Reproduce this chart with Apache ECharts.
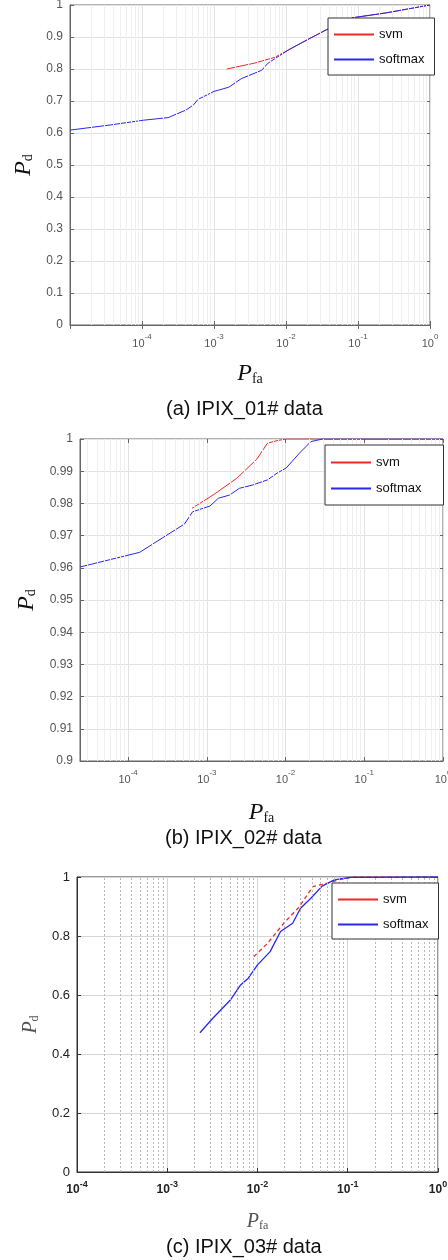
<!DOCTYPE html>
<html>
<head>
<meta charset="utf-8">
<script src="https://cdn.jsdelivr.net/npm/echarts@6/dist/echarts.min.js"></script>
<style>html,body{margin:0;padding:0;background:#fff}#chart{width:448px;height:1260px}</style>
</head>
<body>
<div id="chart"></div>
<script>
// (a) IPIX_01# data
var pfaSoftmaxA = [1e-5, 3.6e-5, 1.05e-4, 2.3e-4, 4.1e-4, 5.2e-4, 6.0e-4, 1.0e-3, 1.6e-3, 2.4e-3, 4.6e-3, 5.6e-3, 1.07e-2, 2.0e-2, 3.9e-2, 8.3e-2, 0.24, 1];
var pdSoftmaxA = [0.609, 0.625, 0.64, 0.648, 0.672, 0.688, 0.705, 0.73, 0.743, 0.77, 0.796, 0.818, 0.859, 0.892, 0.926, 0.96, 0.975, 1];
var pfaSvmA = [1.5e-3, 3.6e-3, 6.9e-3, 1.07e-2, 2.0e-2, 3.9e-2, 8.3e-2, 0.24, 1];
var pdSvmA = [0.80, 0.818, 0.836, 0.859, 0.892, 0.926, 0.96, 0.975, 1];

// (b) IPIX_02# data
var pfaSoftmaxB = [2.5e-5, 1.4e-4, 5.2e-4, 6.6e-4, 1.1e-3, 1.4e-3, 1.95e-3, 2.6e-3, 3.8e-3, 5.9e-3, 7.8e-3, 1.02e-2, 1.5e-2, 2.1e-2, 2.95e-2, 1];
var pdSoftmaxB = [0.9603, 0.9648, 0.9736, 0.9774, 0.9792, 0.9816, 0.9826, 0.9847, 0.9857, 0.9873, 0.9894, 0.991, 0.9956, 0.9992, 1, 1];
var pfaSvmB = [6.5e-4, 1.2e-3, 2.4e-3, 4.3e-3, 5.9e-3, 7.8e-3, 1.02e-2, 1];
var pdSvmB = [0.9785, 0.9826, 0.9878, 0.9937, 0.9987, 0.9995, 1, 1];

// (c) IPIX_03# data
var pfaSoftmaxC = [2.3e-3, 3.2e-3, 5.0e-3, 6.5e-3, 7.9e-3, 1.0e-2, 1.38e-2, 1.8e-2, 2.45e-2, 3.0e-2, 3.9e-2, 5.2e-2, 7.1e-2, 0.107, 1];
var pdSoftmaxC = [0.472, 0.521, 0.583, 0.634, 0.657, 0.702, 0.747, 0.815, 0.843, 0.894, 0.928, 0.969, 0.99, 0.999, 1];
var pfaSvmC = [9.1e-3, 1.29e-2, 1.95e-2, 2.9e-2, 4.1e-2, 5.9e-2, 8.3e-2, 0.117, 1];
var pdSvmC = [0.73, 0.775, 0.843, 0.899, 0.967, 0.979, 0.992, 1, 1];

var captions = ['(a) IPIX_01# data', '(b) IPIX_02# data', '(c) IPIX_03# data'];
var legendNames = ['svm', 'softmax'];
var lineColors = ['#f02828', '#2828f0'];
var minorMult = [2, 3, 4, 5, 6, 7, 8, 9];

var sans = 'Liberation Sans, Arial, sans-serif';
var serif = 'Liberation Serif, Times New Roman, serif';

var panels = [
  { left: 70, top: 5, width: 360, height: 320, xMin: 1e-5, yMin: 0, yStep: 0.1, showMin: false,
    svm: [pfaSvmA, pdSvmA], soft: [pfaSoftmaxA, pdSoftmaxA], svmDash: 'solid', lw: 1,
    axisColor: '#666', tickColor: '#555', tickSize: 11, tickWeight: 'normal',
    majorGrid: '#e2e2e2', minorGrid: '#efefef', minorType: 'solid',
    nameSize: 24, nameColor: '#111', xNameGap: 33, yNameGap: 23,
    legend: { left: 328, top: 18, padding: [10, 10, 9, 6], itemGap: 12 },
    capTop: 399, capLeft: 166 },
  { left: 80, top: 439, width: 363, height: 322, xMin: 2.45e-5, yMin: 0.9, yStep: 0.01, showMin: false,
    svm: [pfaSvmB, pdSvmB], soft: [pfaSoftmaxB, pdSoftmaxB], svmDash: 'solid', lw: 1,
    axisColor: '#666', tickColor: '#555', tickSize: 11, tickWeight: 'normal',
    majorGrid: '#e2e2e2', minorGrid: '#efefef', minorType: 'solid',
    nameSize: 24, nameColor: '#111', xNameGap: 36, yNameGap: 27,
    legend: { left: 325, top: 445, padding: [11, 22, 10, 6], itemGap: 13 },
    capTop: 828, capLeft: 165 },
  { left: 77, top: 877, width: 361, height: 295, xMin: 1e-4, yMin: 0, yStep: 0.2, showMin: true,
    svm: [pfaSvmC, pdSvmC], soft: [pfaSoftmaxC, pdSoftmaxC], svmDash: [4, 3], lw: 1.3,
    axisColor: '#333', tickColor: '#222', tickSize: 12, tickWeight: 'bold',
    majorGrid: '#d6d6d6', minorGrid: '#b8b8b8', minorType: [2, 2],
    nameSize: 20, nameColor: '#555', xNameGap: 36, yNameGap: 22,
    legend: { left: 332, top: 883, padding: [10, 10, 8, 6], itemGap: 12 },
    capTop: 1237, capLeft: 166 }
];

function pow10Label(v) {
  return '{b|10}{s|' + Math.round(Math.log10(v)) + '}';
}

function powRich(color, size, weight) {
  return {
    b: { fontSize: size, color: color, fontWeight: weight, fontFamily: sans, lineHeight: 16, verticalAlign: 'bottom' },
    s: { fontSize: size - 3, color: color, fontWeight: weight, fontFamily: sans, lineHeight: 8, verticalAlign: 'top' }
  };
}

function nameRich(size, color) {
  return {
    p: { fontSize: size, fontStyle: 'italic', fontFamily: serif, color: color, lineHeight: size + 4, verticalAlign: 'bottom' },
    s: { fontSize: Math.round(size * 0.6), fontFamily: serif, color: color, lineHeight: Math.round(size * 0.6), verticalAlign: 'bottom' }
  };
}

function minorLines(lo, hi) {
  var out = [];
  for (var e = -6; e < 0; e++) {
    minorMult.forEach(function (m) {
      var v = m * Math.pow(10, e);
      if (v > lo && v < hi) out.push({ xAxis: v });
    });
  }
  return out;
}

function pairs(xs, ys) {
  return xs.map(function (x, i) { return [x, ys[i]]; });
}

var grids = [], xAxes = [], yAxes = [], series = [], legends = [], titles = [];

panels.forEach(function (p, i) {
  grids.push({ left: p.left, top: p.top, width: p.width, height: p.height,
    show: true, borderColor: p.axisColor, borderWidth: 1, outerBoundsMode: 'none' });

  xAxes.push({
    type: 'log', logBase: 10, gridIndex: i, min: p.xMin, max: 1,
    name: '{p|P}{s|fa}', nameLocation: 'middle', nameGap: p.xNameGap,
    nameTextStyle: { rich: nameRich(p.nameSize, p.nameColor) },
    axisLine: { show: true, onZero: false, lineStyle: { color: p.axisColor } },
    axisTick: { inside: true, length: 4, lineStyle: { color: p.axisColor } },
    axisLabel: { showMinLabel: p.showMin, margin: 8, formatter: pow10Label,
      rich: powRich(p.tickColor, p.tickSize, p.tickWeight) },
    splitLine: { show: true, lineStyle: { color: p.majorGrid } }
  });
  xAxes.push({
    type: 'log', logBase: 10, gridIndex: i, min: p.xMin, max: 1, position: 'top',
    axisLine: { show: false }, axisLabel: { show: false }, splitLine: { show: false },
    axisTick: { show: i < 2, inside: true, length: 4, lineStyle: { color: p.axisColor } }
  });

  yAxes.push({
    type: 'value', gridIndex: i, min: p.yMin, max: 1, interval: p.yStep,
    name: '{p|P}{s|d}', nameLocation: 'middle', nameGap: p.yNameGap,
    nameTextStyle: { rich: nameRich(p.nameSize, p.nameColor) },
    axisLine: { show: true, lineStyle: { color: p.axisColor } },
    axisTick: { show: true, inside: true, length: 4, lineStyle: { color: p.axisColor } },
    axisLabel: { color: p.tickColor, fontSize: p.tickSize + 1, fontFamily: sans, margin: 7 },
    splitLine: { show: true, lineStyle: { color: p.majorGrid } }
  });
  yAxes.push({
    type: 'value', gridIndex: i, min: p.yMin, max: 1, interval: p.yStep, position: 'right',
    axisLine: { show: false }, axisLabel: { show: false }, splitLine: { show: false },
    axisTick: { show: true, inside: true, length: 4, lineStyle: { color: p.axisColor } }
  });

  // minor log grid lines (2..9 per decade)
  series.push({
    type: 'line', xAxisIndex: 2 * i, yAxisIndex: 2 * i, data: [], silent: true, z: 1,
    markLine: { silent: true, symbol: 'none', precision: 12, label: { show: false },
      lineStyle: { color: p.minorGrid, width: 1, type: p.minorType },
      data: minorLines(p.xMin, 1) }
  });
  series.push({
    name: 'svm', type: 'line', xAxisIndex: 2 * i, yAxisIndex: 2 * i, symbol: 'none',
    data: pairs(p.svm[0], p.svm[1]), z: 3,
    lineStyle: { color: lineColors[0], width: p.lw, type: p.svmDash }, itemStyle: { color: lineColors[0] }
  });
  series.push({
    name: 'softmax', type: 'line', xAxisIndex: 2 * i, yAxisIndex: 2 * i, symbol: 'none',
    data: pairs(p.soft[0], p.soft[1]), z: 4,
    lineStyle: { color: lineColors[1], width: p.lw }, itemStyle: { color: lineColors[1] }
  });

  legends.push({
    z: 20,
    data: legendNames.map(function (n, k) {
      return { name: n, icon: 'rect',
        itemStyle: { color: lineColors[k], borderWidth: 0, borderType: 'solid', opacity: 1 } };
    }),
    orient: 'vertical', left: p.legend.left, top: p.legend.top,
    padding: p.legend.padding, itemGap: p.legend.itemGap, itemWidth: 40, itemHeight: 2,
    backgroundColor: '#fff', borderColor: '#333', borderWidth: 1, selectedMode: false,
    textStyle: { fontSize: 13, color: '#111', fontFamily: sans }
  });

  titles.push({
    text: captions[i], left: p.capLeft, top: p.capTop, padding: 0,
    textStyle: { fontSize: 20, fontWeight: 'normal', color: '#111', fontFamily: sans }
  });
});

var chart = echarts.init(document.getElementById('chart'));
chart.setOption({
  animation: false,
  backgroundColor: '#fff',
  title: titles,
  legend: legends,
  grid: grids,
  xAxis: xAxes,
  yAxis: yAxes,
  series: series
});
</script>
</body>
</html>
